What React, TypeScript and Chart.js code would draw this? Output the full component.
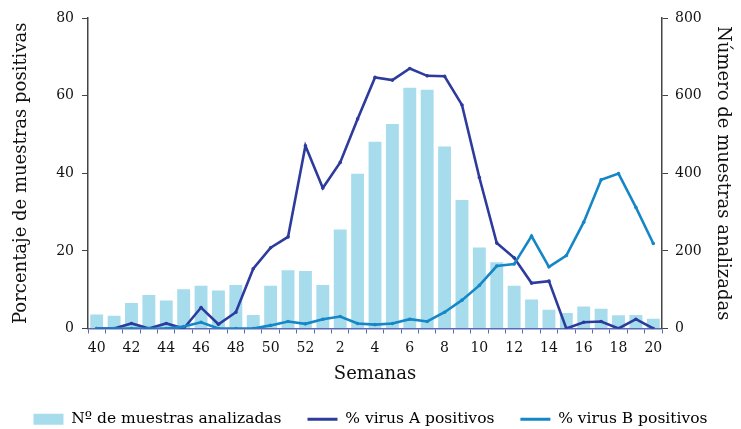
import React, { useEffect, useRef } from "react";
import { Chart, registerables } from "chart.js";

Chart.register(...registerables);

const weeks: string[] = [
  "40", "41", "42", "43", "44", "45", "46", "47", "48", "49", "50", "51", "52",
  "1", "2", "3", "4", "5", "6", "7", "8", "9", "10", "11", "12", "13", "14", "15", "16", "17", "18", "19", "20",
];

const samples: number[] = [
  36, 33, 66, 86, 72, 101, 110, 98, 112, 35, 110, 150, 148,
  112, 255, 399, 481, 527, 620, 615, 469, 331, 209, 171, 110, 75, 48, 40, 57, 51, 34, 35, 25,
];

const virusA: number[] = [
  0, 0, 1.3, 0, 1.3, 0, 5.4, 1.1, 4.2, 15.4, 20.8, 23.6, 47.1,
  36.2, 42.8, 54, 64.7, 64, 67, 65.1, 65, 57.6, 38.9, 22, 18.2, 11.7, 12.2, 0, 1.6, 1.8, 0, 2.4, 0,
];

const virusB: number[] = [
  0, 0, 0, 0, 0, 0.5, 1.6, 0, 0, 0, 0.8, 1.8, 1.2,
  2.4, 3.1, 1.3, 1.0, 1.3, 2.4, 1.8, 4.2, 7.3, 11.1, 16.1, 16.6, 23.8, 15.9, 18.8, 27.4, 38.3, 39.9, 31.2, 21.9,
];

const leftTicks: number[] = [0, 20, 40, 60, 80];
const rightTicks: number[] = [0, 200, 400, 600, 800];

const seriesNames: string[] = [
  "Nº de muestras analizadas",
  "% virus A positivos",
  "% virus B positivos",
];

const BAR_COLOR = "#a6dcec";
const A_COLOR = "#2d3b9d";
const B_COLOR = "#1687c6";
const FONT = "'DejaVu Serif', serif";

export default function App() {
  const ref = useRef<HTMLCanvasElement | null>(null);

  useEffect(() => {
    if (!ref.current) return;
    const chart = new Chart(ref.current, {
      type: "bar",
      data: {
        labels: weeks,
        datasets: [
          {
            type: "bar",
            label: seriesNames[0],
            data: samples,
            backgroundColor: BAR_COLOR,
            borderWidth: 0,
            yAxisID: "y1",
            barPercentage: 0.74,
            categoryPercentage: 1,
            order: 3,
          },
          {
            type: "line",
            label: seriesNames[1],
            data: virusA,
            borderColor: A_COLOR,
            backgroundColor: A_COLOR,
            borderWidth: 2.6,
            pointRadius: 1.8,
            pointBorderWidth: 0,
            tension: 0,
            yAxisID: "y",
            order: 1,
          },
          {
            type: "line",
            label: seriesNames[2],
            data: virusB,
            borderColor: B_COLOR,
            backgroundColor: B_COLOR,
            borderWidth: 2.6,
            pointRadius: 1.8,
            pointBorderWidth: 0,
            tension: 0,
            yAxisID: "y",
            order: 0,
          },
        ],
      },
      options: {
        animation: false,
        responsive: false,
        maintainAspectRatio: false,
        layout: { padding: { top: 18, left: 0, right: 0, bottom: 0 } },
        plugins: {
          tooltip: { enabled: false },
          legend: {
            position: "bottom",
            labels: {
              usePointStyle: true,
              pointStyleWidth: 30,
              boxHeight: 11,
              padding: 26,
              color: "#111",
              font: { family: FONT, size: 15.5 },
              generateLabels: () => [
                { text: seriesNames[0], fillStyle: BAR_COLOR, strokeStyle: BAR_COLOR, lineWidth: 0, pointStyle: "rect", datasetIndex: 0, hidden: false },
                { text: seriesNames[1], fillStyle: A_COLOR, strokeStyle: A_COLOR, lineWidth: 3, pointStyle: "line", datasetIndex: 1, hidden: false },
                { text: seriesNames[2], fillStyle: B_COLOR, strokeStyle: B_COLOR, lineWidth: 3, pointStyle: "line", datasetIndex: 2, hidden: false },
              ],
            },
          },
        },
        scales: {
          x: {
            offset: true,
            grid: {
              offset: true,
              drawOnChartArea: false,
              drawTicks: true,
              tickLength: 5,
              color: "#5a6ab4",
            },
            border: { color: "#5a6ab4", width: 1.5 },
            ticks: {
              autoSkip: false,
              maxRotation: 0,
              padding: 6,
              color: "#111",
              font: { family: FONT, size: 14 },
              callback: (_v: any, i: number) => (i % 2 === 0 ? weeks[i] : ""),
            },
            title: {
              display: true,
              text: "Semanas",
              color: "#111",
              font: { family: FONT, size: 18 },
              padding: { top: 2, bottom: 0 },
            },
            afterFit: (s: any) => {
              s.height = 57;
            },
          },
          y: {
            position: "left",
            min: 0,
            max: 80,
            afterBuildTicks: (s: any) => {
              s.ticks = leftTicks.map((v) => ({ value: v }));
            },
            grid: { drawOnChartArea: false, tickLength: 6, color: "#444" },
            border: { color: "#444", width: 1.5 },
            ticks: {
              padding: 8,
              color: "#111",
              font: { family: FONT, size: 14 },
            },
            title: {
              display: true,
              text: "Porcentaje de muestras positivas",
              color: "#111",
              font: { family: FONT, size: 18 },
              padding: { top: 11, bottom: 0 },
            },
            afterFit: (s: any) => {
              s.width = 88;
            },
          },
          y1: {
            position: "right",
            min: 0,
            max: 800,
            afterBuildTicks: (s: any) => {
              s.ticks = rightTicks.map((v) => ({ value: v }));
            },
            grid: { drawOnChartArea: false, tickLength: 6, color: "#444" },
            border: { color: "#444", width: 1.5 },
            ticks: {
              padding: 7,
              color: "#111",
              font: { family: FONT, size: 14 },
            },
            title: {
              display: true,
              text: "Número de muestras analizadas",
              color: "#111",
              font: { family: FONT, size: 18 },
              padding: { top: 8, bottom: 0 },
            },
            afterFit: (s: any) => {
              s.width = 79;
            },
          },
        },
      },
    });
    return () => chart.destroy();
  }, []);

  return (
    <div style={{ position: "absolute", left: 0, top: 0, width: 741, height: 429, overflow: "hidden", background: "#fff" }}>
      <canvas ref={ref} width={741} height={437} style={{ display: "block", width: 741, height: 437 }} />
    </div>
  );
}
